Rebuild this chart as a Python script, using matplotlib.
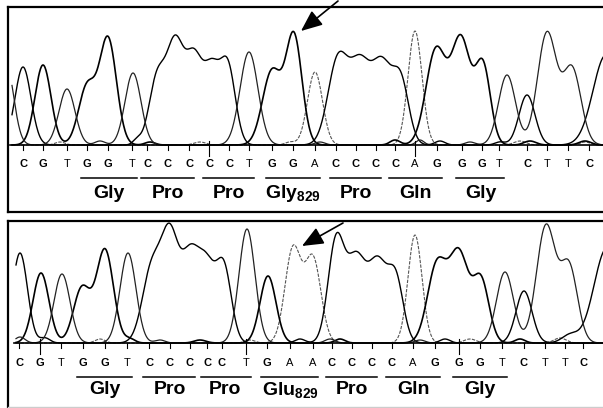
import numpy as np
import matplotlib.pyplot as plt

plt.rcParams['font.family'] = ['Liberation Sans', 'DejaVu Sans']
plt.rcParams['mathtext.fontset'] = 'custom'
plt.rcParams['mathtext.rm'] = 'Liberation Sans:bold'
plt.rcParams['mathtext.it'] = 'Liberation Sans:bold'
plt.rcParams['mathtext.bf'] = 'Liberation Sans:bold'

# base calls and the scan position of each call
wt_bases = list('CGTGGTCCCCCTGGACCCCAGGGTCTTC')
wt_pos = [23, 43, 67, 87, 108, 132, 147, 168, 189, 209, 229, 249, 272, 293,
          315, 336, 356, 376, 395, 415, 437, 462, 482, 499, 527, 547, 568, 589]
mut_bases = list('CGTGGTCCCCCTGAACCCCAGGGTCTTC')
mut_pos = [19, 40, 61, 83, 105, 127, 149, 170, 190, 207, 222, 246, 267, 290,
           313, 332, 352, 372, 392, 413, 435, 459, 480, 502, 524, 545, 565, 583]

# codons (index of first base) and amino acids
codon_start = [3, 6, 9, 12, 15, 18, 21]
wt_aa = ['Gly', 'Pro', 'Pro', 'Gly$_{829}$', 'Pro', 'Gln', 'Gly']
mut_aa = ['Gly', 'Pro', 'Pro', 'Glu$_{829}$', 'Pro', 'Gln', 'Gly']

# every 10th scan mark is drawn longer
wt_long = [9, 19]
mut_long = [1, 11, 21]

# trace peaks: (position, height, width)
wt_A = [(315, 73, 7.5), (415, 114, 7), (60, 3, 5), (200, 3, 6), (290, 3, 5),
        (520, 4, 6), (585, 3, 5)]
wt_C = [(23, 78, 8), (157, 65, 8), (175, 98, 8.5), (194, 83, 8.5),
        (212, 70, 8), (228, 76, 7.5), (338, 85, 10), (360, 76, 10),
        (382, 78, 10), (401, 60, 8), (527, 50, 8), (606, 90, 13),
        (137, 5, 4), (440, 4, 5), (500, 3, 5)]
wt_G = [(43, 80, 8), (87, 58, 8.5), (108, 106, 8.5), (272, 74, 9.5),
        (294, 108, 8), (436, 95, 10), (461, 105, 9.5), (483, 78, 7.5),
        (150, 3, 5), (395, 5, 5), (530, 4, 6), (585, 4, 6)]
wt_T = [(6, 82, 7.5), (67, 56, 8), (133, 72, 8), (249, 93, 9),
        (507, 70, 8.5), (547, 112, 9.5), (572, 76, 9),
        (100, 4, 5), (320, 3, 5), (420, 5, 4), (470, 3, 5)]

mut_A = [(293, 94, 8), (313, 84, 8), (415, 108, 7),
         (100, 4, 5), (250, 3, 5), (470, 4, 6), (560, 5, 6)]
mut_C = [(20, 90, 7.5), (152, 75, 9.5), (170, 100, 8.5), (190, 83, 9),
         (207, 70, 8.5), (224, 73, 7.5), (336, 100, 8), (356, 82, 9.5),
         (378, 78, 9.5), (396, 60, 7.5), (524, 52, 8), (607, 95, 13),
         (45, 5, 5), (300, 4, 5), (445, 4, 5), (570, 8, 8)]
mut_G = [(41, 70, 8), (82, 55, 8.5), (105, 93, 8.5), (268, 67, 8),
         (437, 78, 9.5), (459, 88, 9.5), (481, 62, 8),
         (130, 4, 5), (200, 3, 6), (340, 4, 5), (520, 4, 5)]
mut_T = [(62, 69, 8), (128, 90, 8), (247, 114, 8), (505, 71, 8.5),
         (546, 117, 9.5), (569, 76, 8.5),
         (20, 6, 5), (160, 3, 5), (330, 4, 5), (420, 3, 5)]

styles = {
    'A': dict(color='#555555', lw=0.8, ls=(0, (3, 1.2))),
    'C': dict(color='black', lw=1.0),
    'G': dict(color='black', lw=1.2),
    'T': dict(color='#222222', lw=0.9),
}


def draw_panel(ax, traces, bases, pos, aa, long_idx, x0, ylim, text_y):
    xs = np.arange(x0, 604, 0.5)
    for name, peaks in traces.items():
        y = np.zeros_like(xs)
        for p, h, w in peaks:
            y += h * np.exp(-0.5 * ((xs - p) / w) ** 2)
        ax.plot(xs, y, **styles[name])
    ax.plot([x0 - 2, 603], [0, 0], color='black', lw=1.2)

    letter_y, line_y, aa_y = text_y
    for i, (b, p) in enumerate(zip(bases, pos)):
        if i in long_idx:
            ax.plot([p, p], [4, -11], color='black', lw=0.8)
        else:
            ax.plot([p, p], [0, -5], color='black', lw=0.8)
        ax.text(p, letter_y, b, ha='center', va='center', fontsize=8,
                fontweight='bold' if b in 'CG' else 'normal')

    for s, label in zip(codon_start, aa):
        ax.plot([pos[s] - 6, pos[s + 2] + 5], [line_y, line_y],
                color='black', lw=1.1)
        ax.text(np.mean(pos[s:s + 3]), aa_y, label, ha='center',
                va='center', fontsize=14, fontweight='bold')

    ax.set_xlim(8, 603)
    ax.set_ylim(*ylim)
    ax.set_xticks([])
    ax.set_yticks([])
    ax.spines['right'].set_visible(False)
    for side in ['left', 'top', 'bottom']:
        ax.spines[side].set_linewidth(1.6)


fig = plt.figure(figsize=(6.03, 4.08), dpi=100)
ax1 = fig.add_axes([8 / 603, 196 / 408, 595 / 603, 205 / 408])
ax2 = fig.add_axes([8 / 603, 1 / 408, 595 / 603, 186 / 408])

draw_panel(ax1, {'A': wt_A, 'C': wt_C, 'G': wt_G, 'T': wt_T},
           wt_bases, wt_pos, wt_aa, wt_long, 12, (-67, 138), (-19, -33, -48))
draw_panel(ax2, {'A': mut_A, 'C': mut_C, 'G': mut_G, 'T': mut_T},
           mut_bases, mut_pos, mut_aa, mut_long, 16, (-64, 122), (-20, -34, -47))
ax2.spines['bottom'].set_color('#cccccc')
ax2.spines['bottom'].set_linewidth(1.0)

arrow = dict(arrowstyle='-|>,head_length=1.3,head_width=0.55', color='black',
             lw=1.2, mutation_scale=10, shrinkA=0, shrinkB=0)
ax1.annotate('', xy=(301, 114), xytext=(338, 144), arrowprops=arrow,
             annotation_clip=False)
ax2.annotate('', xy=(302, 97), xytext=(343, 120), arrowprops=arrow,
             annotation_clip=False)

fig.savefig('out.png', dpi=100)
